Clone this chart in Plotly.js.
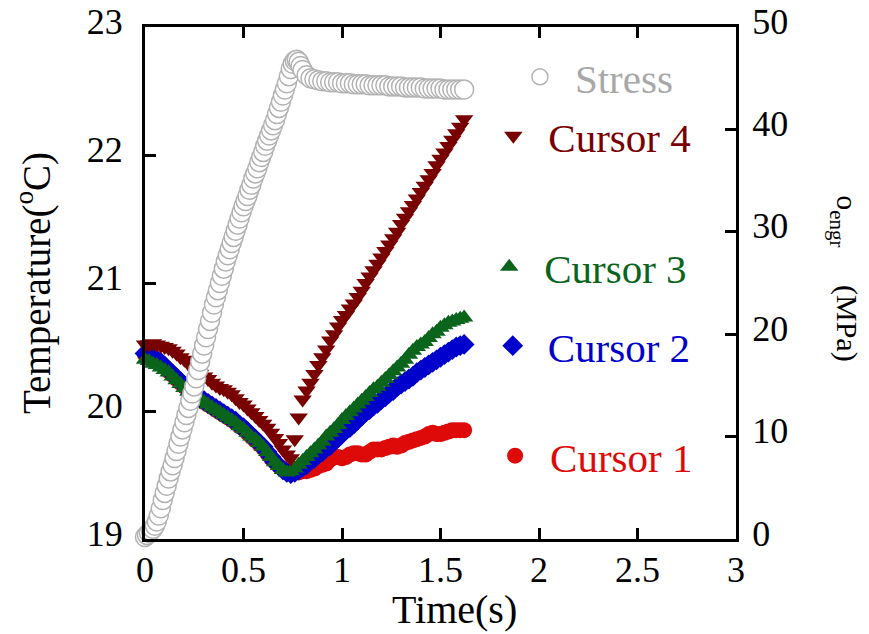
<!DOCTYPE html>
<html>
<head>
<meta charset="utf-8">
<script src="https://cdn.plot.ly/plotly-3.0.1.min.js"></script>
<style>html,body{margin:0;padding:0;background:#fff;}#chart{width:869px;height:634px;}</style>
</head>
<body>
<div id="chart"></div>
<script>
// ---- data ----
const seriesNames = ["Stress", "Cursor 4", "Cursor 3", "Cursor 2", "Cursor 1"];

const tempTime = [0.00,0.02,0.04,0.06,0.08,0.10,0.12,0.14,0.16,0.18,0.20,0.22,0.24,0.26,0.28,0.30,0.32,0.34,0.36,0.38,0.40,0.42,0.44,0.46,0.48,0.50,0.52,0.54,0.56,0.58,0.60,0.62,0.64,0.66,0.68,0.70,0.72,0.74,0.76,0.78,0.80,0.82,0.84,0.86,0.88,0.90,0.92,0.94,0.96,0.98,1.00,1.02,1.04,1.06,1.08,1.10,1.12,1.14,1.16,1.18,1.20,1.22,1.24,1.26,1.28,1.30,1.32,1.34,1.36,1.38,1.40,1.42,1.44,1.46,1.48,1.50,1.52,1.54,1.56,1.58,1.60,1.62];

const cursor4 = [20.52,20.52,20.53,20.52,20.51,20.50,20.49,20.47,20.45,20.42,20.40,20.37,20.34,20.31,20.29,20.27,20.25,20.22,20.20,20.18,20.17,20.15,20.13,20.10,20.07,20.05,20.02,19.99,19.96,19.93,19.90,19.87,19.83,19.79,19.75,19.70,19.66,19.63,19.78,19.95,20.09,20.16,20.22,20.29,20.36,20.42,20.48,20.55,20.60,20.66,20.71,20.75,20.80,20.84,20.89,20.94,21.00,21.05,21.10,21.15,21.20,21.25,21.30,21.35,21.40,21.46,21.51,21.56,21.61,21.66,21.71,21.76,21.81,21.86,21.92,21.97,22.02,22.07,22.12,22.17,22.22,22.28];

const cursor3 = [20.40,20.39,20.37,20.36,20.34,20.32,20.30,20.27,20.24,20.21,20.18,20.15,20.13,20.11,20.09,20.07,20.05,20.03,20.01,19.99,19.97,19.95,19.93,19.91,19.88,19.86,19.83,19.80,19.78,19.75,19.72,19.68,19.64,19.60,19.57,19.54,19.52,19.53,19.55,19.58,19.61,19.64,19.67,19.70,19.73,19.76,19.80,19.83,19.86,19.89,19.93,19.96,19.99,20.02,20.05,20.08,20.11,20.14,20.17,20.19,20.22,20.25,20.28,20.31,20.34,20.37,20.40,20.44,20.47,20.50,20.52,20.54,20.57,20.60,20.62,20.65,20.67,20.69,20.70,20.71,20.72,20.73];

const cursor2 = [20.45,20.44,20.42,20.40,20.38,20.35,20.32,20.29,20.26,20.23,20.20,20.17,20.14,20.12,20.10,20.08,20.06,20.04,20.02,20.00,19.98,19.96,19.94,19.92,19.89,19.87,19.84,19.81,19.78,19.75,19.72,19.68,19.64,19.60,19.57,19.54,19.52,19.51,19.52,19.54,19.56,19.58,19.61,19.63,19.66,19.68,19.71,19.73,19.76,19.79,19.82,19.85,19.87,19.90,19.93,19.96,19.99,20.01,20.04,20.06,20.09,20.11,20.14,20.16,20.19,20.21,20.23,20.25,20.27,20.30,20.32,20.34,20.36,20.38,20.40,20.42,20.44,20.46,20.48,20.50,20.51,20.52];

const cursor1 = [20.44,20.43,20.41,20.39,20.37,20.34,20.31,20.28,20.25,20.22,20.19,20.16,20.13,20.11,20.09,20.07,20.05,20.03,20.01,19.99,19.97,19.95,19.93,19.91,19.88,19.86,19.83,19.80,19.77,19.74,19.71,19.67,19.63,19.60,19.57,19.55,19.53,19.52,19.52,19.52,19.53,19.53,19.54,19.55,19.57,19.58,19.59,19.62,19.64,19.64,19.63,19.64,19.66,19.67,19.67,19.66,19.66,19.68,19.70,19.70,19.70,19.71,19.72,19.73,19.72,19.73,19.75,19.76,19.77,19.78,19.79,19.80,19.82,19.83,19.82,19.82,19.83,19.84,19.85,19.85,19.85,19.85];

const stressTime = [-0.04,-0.03,-0.02,-0.01,0.00,0.01,0.02,0.03,0.04,0.05,0.06,0.07,0.08,0.09,0.10,0.11,0.12,0.13,0.14,0.15,0.16,0.17,0.18,0.19,0.20,0.21,0.22,0.23,0.24,0.25,0.26,0.27,0.28,0.29,0.30,0.31,0.32,0.33,0.34,0.35,0.36,0.37,0.38,0.39,0.40,0.41,0.42,0.43,0.44,0.45,0.46,0.47,0.48,0.49,0.50,0.51,0.52,0.53,0.54,0.55,0.56,0.57,0.58,0.59,0.60,0.61,0.62,0.63,0.64,0.65,0.66,0.67,0.68,0.69,0.70,0.71,0.72,0.73,0.74,0.75,0.76,0.77,0.78,0.79,0.80,0.82,0.84,0.86,0.88,0.90,0.92,0.94,0.96,0.98,1.00,1.02,1.04,1.06,1.08,1.10,1.12,1.14,1.16,1.18,1.20,1.22,1.24,1.26,1.28,1.30,1.32,1.34,1.36,1.38,1.40,1.42,1.44,1.46,1.48,1.50,1.52,1.54,1.56,1.58,1.60,1.62];

const stress = [0.0,0.0,0.1,0.1,0.2,0.4,0.6,0.8,1.0,1.3,1.7,2.3,3.0,3.8,4.5,5.2,5.9,6.6,7.2,7.9,8.6,9.3,10.0,10.7,11.4,12.1,12.8,13.5,14.2,14.9,15.7,16.5,17.3,18.1,18.9,19.7,20.5,21.3,22.1,22.9,23.6,24.3,25.0,25.7,26.4,27.1,27.7,28.3,28.9,29.5,30.1,30.7,31.3,31.9,32.5,33.0,33.5,34.1,34.6,35.2,35.7,36.2,36.8,37.3,37.8,38.4,38.9,39.4,39.9,40.4,40.9,41.5,42.1,42.7,43.3,43.9,44.5,45.2,45.9,46.4,46.7,46.8,46.6,46.2,45.8,45.3,45.0,44.9,44.8,44.7,44.7,44.6,44.6,44.6,44.5,44.5,44.5,44.4,44.4,44.4,44.4,44.3,44.3,44.3,44.3,44.3,44.2,44.2,44.2,44.2,44.1,44.1,44.1,44.1,44.1,44.0,44.0,44.0,44.0,44.0,43.9,43.9,43.9,43.9,43.9,43.9];

const xTickVals = [0, 0.5, 1, 1.5, 2, 2.5, 3];
const yTickVals = [19, 20, 21, 22, 23];
const y2TickVals = [0, 10, 20, 30, 40, 50];

// ---- styling ----
const FONT = "Liberation Serif, Times New Roman, serif";
const C_MAROON = "#780000", C_GREEN = "#0b641c", C_BLUE = "#0000cc", C_RED = "#de0a0a", C_GRAY = "#b2b2b2";

function legendBox(x, y, color) {
  return {x: x, y: y, xanchor: "left", yanchor: "middle", bgcolor: "rgba(0,0,0,0)",
          borderwidth: 0, itemwidth: 60, font: {family: FONT, size: 41, color: color}};
}

const traces = [
  {x: tempTime, y: cursor1, name: seriesNames[4], type: "scatter", mode: "markers", cliponaxis: false,
   legend: "legend5", marker: {symbol: "circle", size: 16, color: C_RED}},
  {x: tempTime, y: cursor2, name: seriesNames[3], type: "scatter", mode: "markers", cliponaxis: false,
   legend: "legend4", marker: {symbol: "diamond", size: 16, color: C_BLUE}},
  {x: tempTime, y: cursor3, name: seriesNames[2], type: "scatter", mode: "markers", cliponaxis: false,
   legend: "legend3", marker: {symbol: "triangle-up", size: 16, color: C_GREEN}},
  {x: tempTime, y: cursor4, name: seriesNames[1], type: "scatter", mode: "markers", cliponaxis: false,
   legend: "legend2", marker: {symbol: "triangle-down", size: 16, color: C_MAROON}},
  {x: stressTime, y: stress, name: seriesNames[0], type: "scatter", mode: "markers", cliponaxis: false,
   yaxis: "y2", legend: "legend",
   marker: {symbol: "circle", size: 19, color: "#ffffff", line: {color: C_GRAY, width: 1.5}}}
];

const axisCommon = {showgrid: false, zeroline: false, showline: true, linecolor: "#000", linewidth: 3,
  ticks: "inside", ticklen: 11, tickwidth: 3, tickcolor: "#000",
  tickfont: {family: FONT, size: 36, color: "#000"}};

const layout = {
  width: 869, height: 634,
  margin: {l: 145, r: 133, t: 27, b: 95, pad: 0},
  paper_bgcolor: "#fff", plot_bgcolor: "#fff",
  showlegend: true,
  xaxis: Object.assign({}, axisCommon, {range: [0, 3], tickvals: xTickVals, mirror: "ticks",
    ticklabelstandoff: -3}),
  yaxis: Object.assign({}, axisCommon, {range: [19, 23], tickvals: yTickVals, ticklabelstandoff: 12,
    ticklabelshift: -6,
    title: {text: "Temperature(<sup>o</sup>C)", font: {family: FONT, size: 39, color: "#000"}, standoff: 25}}),
  yaxis2: Object.assign({}, axisCommon, {range: [0, 50], tickvals: y2TickVals, overlaying: "y", side: "right",
    ticklabelstandoff: 6, ticklabelshift: -6}),
  legend: legendBox(0.609, 0.902, "#a8a8a8"),
  legend2: legendBox(0.564, 0.787, C_MAROON),
  legend3: legendBox(0.557, 0.531, C_GREEN),
  legend4: legendBox(0.563, 0.377, C_BLUE),
  legend5: legendBox(0.567, 0.162, C_RED),
  annotations: [
    {text: "Time(s)", xref: "paper", yref: "paper", x: 0.5245, y: -0.138,
     xanchor: "center", yanchor: "middle", showarrow: false,
     font: {family: FONT, size: 40, color: "#000"}},
    {text: "o<sub>engr</sub>&nbsp;&nbsp;&nbsp;&nbsp;&nbsp;(MPa)", xref: "paper", yref: "paper", x: 1.184, y: 0.51,
     xanchor: "center", yanchor: "middle",
     showarrow: false, textangle: 90, font: {family: FONT, size: 30, color: "#000"}}
  ]
};

Plotly.newPlot("chart", traces, layout, {staticPlot: true, displayModeBar: false});
</script>
</body>
</html>
